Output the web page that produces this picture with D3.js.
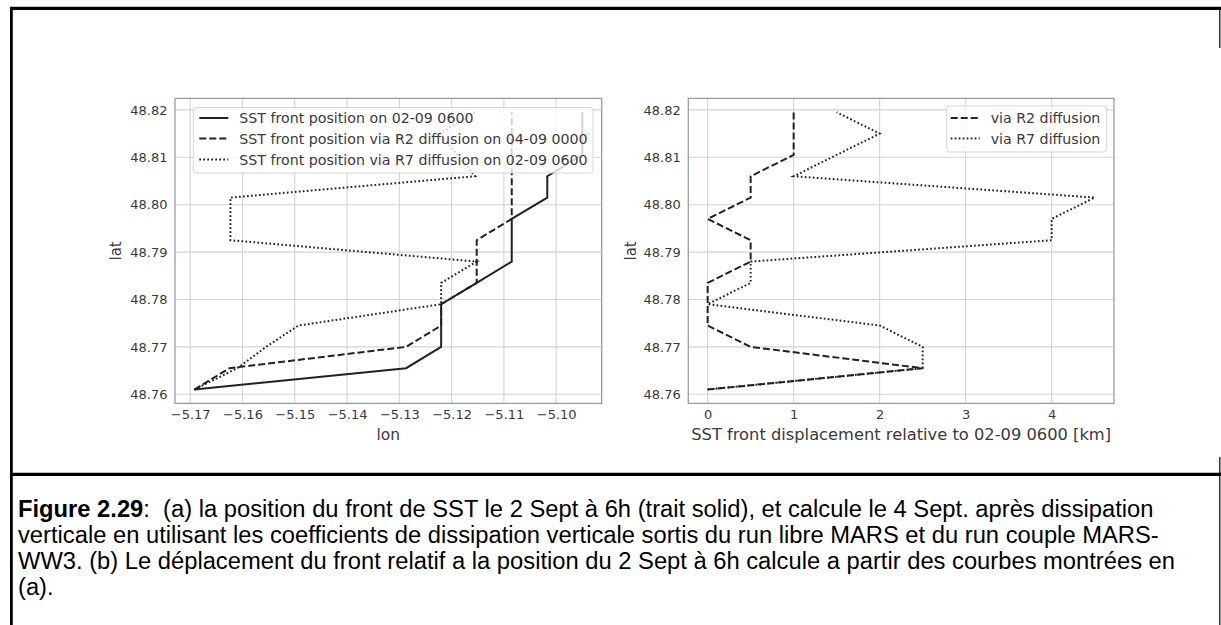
<!DOCTYPE html>
<html><head><meta charset="utf-8">
<script src="https://cdn.jsdelivr.net/npm/d3@7"></script>
<style>
html,body{margin:0;padding:0;background:#fff;}
svg{display:block;}
text{white-space:pre;}
</style></head><body>
<svg id="c" width="1221" height="625"></svg>
<script>
// ---------- data ----------
const latLevels   = [48.7610,48.7655,48.7700,48.7745,48.7790,48.7835,48.7880,48.7925,48.7970,48.8015,48.8060,48.8105,48.8150,48.8195];
const lonObserved = [-5.1692,-5.1287,-5.1220,-5.1220,-5.1220,-5.1152,-5.1085,-5.1085,-5.1085,-5.1017,-5.1017,-5.0950,-5.0950,-5.0950];
const lonR2       = [-5.1692,-5.1625,-5.1287,-5.1220,-5.1220,-5.1152,-5.1152,-5.1152,-5.1085,-5.1085,-5.1085,-5.1085,-5.1085,-5.1085];
const lonR7       = [-5.1692,-5.1610,-5.1555,-5.1493,-5.1220,-5.1220,-5.1152,-5.1623,-5.1623,-5.1623,-5.1155,-5.1189,-5.1223,-5.1155];
const dispR2      = [0,2.5,0.5,0,0,0,0.5,0.5,0,0.5,0.5,1.0,1.0,1.0];
const dispR7      = [0,2.5,2.5,2.0,0,0.5,0.5,4.0,4.0,4.5,1.0,1.5,2.0,1.5];

const lonTicks = [-5.17,-5.16,-5.15,-5.14,-5.13,-5.12,-5.11,-5.10];
const lonTickLabels = ["\u22125.17","\u22125.16","\u22125.15","\u22125.14","\u22125.13","\u22125.12","\u22125.11","\u22125.10"];
const latTicks = [48.76,48.77,48.78,48.79,48.80,48.81,48.82];
const latTickLabels = ["48.76","48.77","48.78","48.79","48.80","48.81","48.82"];
const dispTicks = [0,1,2,3,4];
const dispTickLabels = ["0","1","2","3","4"];

const leftLegendLabels = ["SST front position on 02-09 0600","SST front position via R2 diffusion on 04-09 0000","SST front position via R7 diffusion on 02-09 0600"];
const rightLegendLabels = ["via R2 diffusion","via R7 diffusion"];
const xTitleLeft = "lon";
const xTitleRight = "SST front displacement relative to 02-09 0600 [km]";
const yTitle = "lat";

const captionBold = "Figure 2.29";
const captionLines = [
  ":  (a) la position du front de SST le 2 Sept à 6h (trait solid), et calcule le 4 Sept. après dissipation",
  "verticale en utilisant les coefficients de dissipation verticale sortis du run libre MARS et du run couple MARS-",
  "WW3. (b) Le déplacement du front relatif a la position du 2 Sept à 6h calcule a partir des courbes montrées en",
  "(a)."
];

// ---------- styles ----------
const INK = "#222222", GRID = "#d4d4d4", SPINE = "#979da8", TXT = "#3a3a3a";
const FONT = "DejaVu Sans, sans-serif";
const STYLES = {solid:null, dashed:"7,3", dotted:"1.7,2.3"};

const svg = d3.select("#c");

// ---------- page frame ----------
const fr = svg.append("g").attr("stroke","#000");
fr.append("line").attr("x1",10).attr("x2",1221).attr("y1",8.4).attr("y2",8.4).attr("stroke-width",3.2);
fr.append("line").attr("x1",11.4).attr("x2",11.4).attr("y1",7).attr("y2",625).attr("stroke-width",2.8);
fr.append("line").attr("x1",10).attr("x2",1221).attr("y1",474.4).attr("y2",474.4).attr("stroke-width",3.3);
fr.append("line").attr("x1",1219.8).attr("x2",1219.8).attr("y1",8).attr("y2",48).attr("stroke-width",1.2);
fr.append("line").attr("x1",1219.8).attr("x2",1219.8).attr("y1",457).attr("y2",625).attr("stroke-width",1.2);

function padded(vals){
  const [a,b] = d3.extent(vals); const r = b-a; return [a-0.05*r, b+0.05*r];
}

const Y0 = 98.4, Y1 = 403.4;
const yScale = d3.scaleLinear().domain(padded(latLevels)).range([Y1,Y0]);

function panel(opt){
  const g = svg.append("g");
  const x = opt.x, y = yScale;
  const [x0,x1] = x.range();
  // grid
  g.append("g").selectAll("line").data(opt.xTicks).join("line")
    .attr("x1",d=>x(d)).attr("x2",d=>x(d)).attr("y1",Y0).attr("y2",Y1)
    .attr("stroke",GRID).attr("stroke-width",1.1);
  g.append("g").selectAll("line").data(latTicks).join("line")
    .attr("y1",d=>y(d)).attr("y2",d=>y(d)).attr("x1",x0).attr("x2",x1)
    .attr("stroke",GRID).attr("stroke-width",1.1);
  // series
  opt.series.forEach(s=>{
    const line = d3.line().x(d=>x(d[0])).y(d=>y(d[1]));
    g.append("path").datum(s.vals.map((v,i)=>[v,latLevels[i]]))
      .attr("d",line).attr("fill","none").attr("stroke",INK)
      .attr("stroke-width",2).attr("stroke-dasharray",STYLES[s.style]);
  });
  // spines
  g.append("rect").attr("x",x0).attr("y",Y0).attr("width",x1-x0).attr("height",Y1-Y0)
    .attr("fill","none").attr("stroke",SPINE).attr("stroke-width",1.3);
  // axes
  const ax = g.append("g").attr("transform",`translate(0,${Y1})`)
    .call(d3.axisBottom(x).tickValues(opt.xTicks).tickFormat((d,i)=>opt.xLabels[i]).tickSize(0).tickPadding(6));
  const ay = g.append("g").attr("transform",`translate(${x0},0)`)
    .call(d3.axisLeft(y).tickValues(latTicks).tickFormat((d,i)=>latTickLabels[i]).tickSize(0).tickPadding(7.5));
  [ax,ay].forEach(a=>{a.select(".domain").remove();
    a.selectAll("text").attr("fill",TXT).style("font-family",FONT).style("font-size","13px");});
  // titles
  g.append("text").attr("x",(x0+x1)/2).attr("y",440).attr("text-anchor","middle")
    .style("font-family",FONT).style("font-size",opt.xTitleSize).attr("fill",TXT).text(opt.xTitle);
  g.append("text").attr("transform",`translate(${opt.yTitleX},${(Y0+Y1)/2}) rotate(-90)`).attr("text-anchor","middle")
    .style("font-family",FONT).style("font-size","15px").attr("fill",TXT).text(yTitle);
  // legend
  const L = opt.legend;
  const lg = g.append("g");
  lg.append("rect").attr("x",L.x).attr("y",L.y).attr("width",L.w).attr("height",L.h).attr("rx",3)
    .attr("fill","#fff").attr("fill-opacity",0.8).attr("stroke","#cccccc").attr("stroke-opacity",0.8);
  L.labels.forEach((lab,i)=>{
    const cy = L.rowY[i];
    lg.append("line").attr("x1",L.hx).attr("x2",L.hx+29).attr("y1",cy).attr("y2",cy)
      .attr("stroke",INK).attr("stroke-width",2).attr("stroke-dasharray",STYLES[L.styles[i]]);
    lg.append("text").attr("x",L.hx+40).attr("y",cy).attr("dy","0.36em")
      .style("font-family",FONT).style("font-size","14.2px").attr("fill",TXT).text(lab);
  });
}

panel({
  x: d3.scaleLinear().domain(padded(lonObserved.concat(lonR2,lonR7))).range([175,601.7]),
  xTicks: lonTicks, xLabels: lonTickLabels, xTitle: xTitleLeft, xTitleSize:"15.5px", yTitleX:121,
  series: [{vals:lonObserved,style:"solid"},{vals:lonR2,style:"dashed"},{vals:lonR7,style:"dotted"}],
  legend: {x:193.3,y:107.5,w:399.7,h:65.5,hx:199.3,rowY:[118,138.6,159.4],labels:leftLegendLabels,styles:["solid","dashed","dotted"]}
});
panel({
  x: d3.scaleLinear().domain(padded(dispR2.concat(dispR7))).range([688.3,1114]),
  xTicks: dispTicks, xLabels: dispTickLabels, xTitle: xTitleRight, xTitleSize:"16.3px", yTitleX:636,
  series: [{vals:dispR2,style:"dashed"},{vals:dispR7,style:"dotted"}],
  legend: {x:946.7,y:106,w:160,h:46,hx:950.7,rowY:[118,138.6],labels:rightLegendLabels,styles:["dashed","dotted"]}
});

// ---------- caption ----------
const cap = svg.append("g").style("font-family","Liberation Sans, Arial, sans-serif").attr("fill","#000");
const capTexts = captionLines.map((ln,i)=>{
  const t = cap.append("text").attr("x",18).attr("y",517+26*i).style("font-size","20px");
  if(i===0){ t.append("tspan").style("font-weight","bold").text(captionBold); }
  t.append("tspan").text(ln);
  return t;
});
const w0 = capTexts[0].node().getComputedTextLength();
const fs = 20*1136/w0;
capTexts.forEach(t=>t.style("font-size",fs+"px"));
</script>
</body></html>
